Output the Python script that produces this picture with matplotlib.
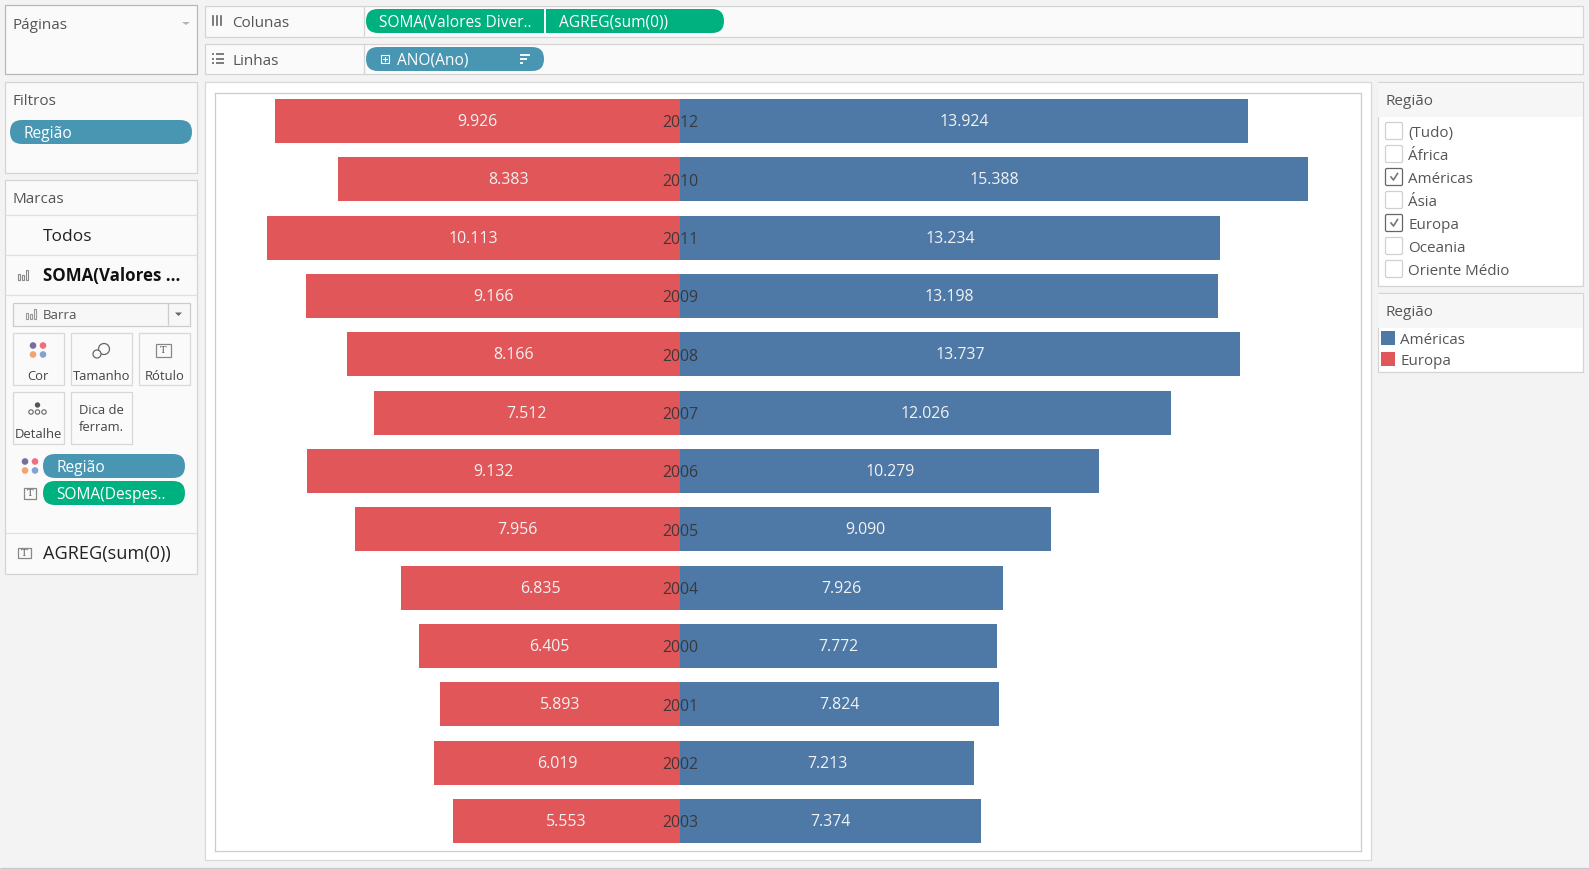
import matplotlib
matplotlib.use('Agg')
import matplotlib.pyplot as plt
from matplotlib.patches import Rectangle, FancyBboxPatch, Circle

# --- data ---
anos = ['2012', '2010', '2011', '2009', '2008', '2007', '2006', '2005', '2004', '2000', '2001', '2002', '2003']
americas = [13924, 15388, 13234, 13198, 13737, 12026, 10279, 9090, 7926, 7772, 7824, 7213, 7374]
europa = [9926, 8383, 10113, 9166, 8166, 7512, 9132, 7956, 6835, 6405, 5893, 6019, 5553]
regioes_filtro = ['(Tudo)', 'África', 'Américas', 'Ásia', 'Europa', 'Oceania', 'Oriente Médio']
regioes_marcadas = ['Américas', 'Europa']

AZUL = '#4e79a7'
VERM = '#e15759'
VERDE = '#00b180'
PILL = '#4996b2'
BORDA = '#d4d4d4'
TXT = '#555555'

plt.rcParams['font.family'] = ['Open Sans', 'DejaVu Sans']

W, H = 1589, 869
fig = plt.figure(figsize=(W / 100, H / 100), dpi=100, facecolor='#f3f3f3')

# pixel canvas for the Tableau window around the chart
ui = fig.add_axes([0, 0, 1, 1])
ui.set_xlim(0, W)
ui.set_ylim(H, 0)
ui.axis('off')


def box(x0, y0, x1, y1, fc='#fafafa', ec=BORDA, lw=0.9, z=1):
    ui.add_patch(Rectangle((x0, y0), x1 - x0, y1 - y0, fc=fc, ec=ec, lw=lw, zorder=z))


def hline(x0, x1, y, c='#e0e0e0'):
    ui.plot([x0, x1], [y, y], color=c, lw=0.9, zorder=2, solid_capstyle='butt')


def vline(x, y0, y1, c='#e0e0e0'):
    ui.plot([x, x], [y0, y1], color=c, lw=0.9, zorder=2, solid_capstyle='butt')


def txt(x, yc, s, size=11, color=TXT, **kw):
    # yc is the middle of the capitals, so accents and descenders do not move the line
    ui.text(x, yc + 0.496 * size, s, fontsize=size, color=color, va='baseline', zorder=6, **kw)


def pill(x0, y0, x1, y1, fc, s=None, tx=None, square=None):
    r = (y1 - y0) / 2
    ui.add_patch(FancyBboxPatch((x0 + r, y0 + r), x1 - x0 - 2 * r, 0,
                                boxstyle='round,pad=%f,rounding_size=%f' % (r, r),
                                fc=fc, ec='none', zorder=3))
    if square == 'right':
        ui.add_patch(Rectangle((x1 - r, y0), r, y1 - y0, fc=fc, ec='none', zorder=3))
    if square == 'left':
        ui.add_patch(Rectangle((x0, y0), r, y1 - y0, fc=fc, ec='none', zorder=3))
    if s:
        txt(tx, (y0 + y1) / 2, s, size=11.2, color='white')


def dots(cx, cy):
    for dx, dy, c in [(-5, -4.5, '#7b6c9c'), (5, -4.5, '#ef6f81'), (-5, 4.5, '#f2a46f'), (5, 4.5, '#82a3cd')]:
        ui.add_patch(Circle((cx + dx, cy + dy), 3.3, fc=c, ec='none', zorder=4))


def t_icon(cx, cy, w=14, h=13):
    box(cx - w / 2, cy - h / 2, cx + w / 2, cy + h / 2, fc='none', ec='#888888', lw=0.9, z=4)
    txt(cx, cy, 'T', size=7, color='#666666', ha='center', family='DejaVu Serif')


def bar_icon(x, y, c='#999999'):
    for dx, h in [(0, 6), (4, 5), (8, 10)]:
        ui.add_patch(Rectangle((x + dx, y - h), 2.4, h, fc='none', ec=c, lw=0.8, zorder=4))


# left cards
box(4.5, 5, 197, 74, ec='#b8b8b8')
txt(12, 23.5, 'Páginas')
ui.fill([182, 190, 186], [22, 22, 25], color='#b5b5b5', lw=0, zorder=4)

box(4.5, 81.5, 197, 172.5)
txt(12, 99.7, 'Filtros')
pill(10, 120, 192, 144, PILL, 'Região', 23.5)

box(4.5, 179.5, 197, 574)
txt(12, 197.7, 'Marcas')
for yy in [215, 255, 295, 533]:
    hline(5, 197, yy)
txt(43, 235, 'Todos', size=12.5, color='#222222')
bar_icon(18, 280, '#888888')
txt(43, 275, 'SOMA(Valores ...', size=12.2, color='#111111', fontweight='bold')

box(12.5, 302.5, 189.5, 325.5, fc='#f7f7f7', ec='#cccccc')
vline(167.5, 303, 325, '#cccccc')
bar_icon(26, 319)
txt(43, 314.5, 'Barra', size=9.5)
ui.fill([175, 182, 178.5], [312.5, 312.5, 316], color='#666666', lw=0, zorder=4)

for x0, x1, y0, y1, lab in [(12.5, 63.5, 333, 385, 'Cor'), (71, 132, 333, 385, 'Tamanho'),
                            (139, 190, 333, 385, 'Rótulo'), (12.5, 63.5, 392, 443.5, 'Detalhe')]:
    box(x0, y0, x1, y1, ec='#d8d8d8')
    txt((x0 + x1) / 2, y1 - 10, lab, size=9.4, color='#444444', ha='center')
box(71, 392, 132, 443.5, ec='#d8d8d8')
txt(101.5, 409.5, 'Dica de', size=9.4, color='#444444', ha='center')
txt(101.5, 426.5, 'ferram.', size=9.4, color='#444444', ha='center')

dots(38, 350)
ui.add_patch(Circle((104, 349), 5.5, fc='none', ec='#666666', lw=0.9, zorder=4))
ui.add_patch(Circle((97, 354), 4, fc='#fafafa', ec='#666666', lw=0.9, zorder=5))
t_icon(163.5, 350, 15, 13)
ui.add_patch(Circle((37.5, 405), 2.7, fc='#555555', ec='none', zorder=4))
for dx in [-6.5, 0, 6.5]:
    ui.add_patch(Circle((37.5 + dx, 412), 2.2, fc='none', ec='#666666', lw=0.8, zorder=4))

dots(30, 466)
pill(43, 454, 185, 478, PILL, 'Região', 56.5)
t_icon(30, 493, 12, 11)
pill(43, 481, 185, 505, VERDE, 'SOMA(Despes..', 56.5)
t_icon(24, 553, 13, 10)
txt(43, 553, 'AGREG(sum(0))', size=13.1, color='#222222')

# shelves
box(204.5, 5.5, 1583, 36.5)
box(204.5, 43.5, 1583, 74)
vline(363.5, 6, 36, BORDA)
vline(363.5, 44, 74, BORDA)
for xx in [213, 217, 221]:
    ui.plot([xx, xx], [16, 25], color='#666666', lw=1.2, zorder=4)
for yy in [54, 58.5, 63]:
    ui.plot([212, 214], [yy, yy], color='#666666', lw=1.2, zorder=4, solid_capstyle='butt')
    ui.plot([216, 224], [yy, yy], color='#666666', lw=1.2, zorder=4, solid_capstyle='butt')
txt(232, 21.5, 'Colunas')
txt(232, 59.7, 'Linhas')

pill(366, 9, 544, 33, VERDE, 'SOMA(Valores Diver..', 379, square='right')
pill(546, 9, 724, 33, VERDE, 'AGREG(sum(0))', 559, square='left')
pill(366, 47, 544, 71, PILL, 'ANO(Ano)', 397)
box(380.5, 55, 388.5, 63, fc='none', ec='white', lw=0.8, z=4)
ui.plot([382.5, 386.5], [59, 59], color='white', lw=0.8, zorder=4)
ui.plot([384.5, 384.5], [57, 61], color='white', lw=0.8, zorder=4)
for yy, xe in [(54.5, 530), (58.5, 527), (62.5, 523)]:
    ui.plot([520, xe], [yy, yy], color='white', lw=1.3, zorder=4, solid_capstyle='butt')

# chart frame
box(204.5, 81.5, 1371, 860, fc='white', ec='#d8d8d8')

# right cards
box(1377.5, 82, 1583, 285.5, fc='white')
box(1378, 82.5, 1582.5, 116.5, fc='#f6f6f6', ec='none', lw=0)
txt(1385.5, 100, 'Região')
for i, nome in enumerate(regioes_filtro):
    yc = 131 + 23 * i
    on = nome in regioes_marcadas
    ui.add_patch(FancyBboxPatch((1385.5, yc - 8.5), 17, 17, boxstyle='round,pad=0,rounding_size=1.5',
                                fc='white', ec='#666666' if on else '#d0d0d0', lw=0.9, zorder=3))
    if on:
        ui.plot([1391, 1393.5, 1397.5], [yc, yc + 3, yc - 3.5], color='#777777', lw=1.2, zorder=4)
    txt(1408, yc + 0.7, nome, size=10.9)

box(1377.5, 293, 1583, 371.5, fc='white')
box(1378, 293.5, 1582.5, 327.5, fc='#f6f6f6', ec='none', lw=0)
txt(1385.5, 310.7, 'Região')
ui.add_patch(Rectangle((1381, 331), 14, 14, fc=AZUL, ec='none', zorder=3))
ui.add_patch(Rectangle((1381, 352), 14, 14, fc=VERM, ec='none', zorder=3))
txt(1400.5, 338.7, 'Américas', size=10.9)
txt(1400.5, 360, 'Europa', size=10.9)

hline(0, W, 867.5, '#c8c8c8')

# --- chart ---
PX_UNIT = 0.0408  # pixels per value unit
PX_ROW = 58.33
L, R, T, B = 215, 1360.5, 92.5, 850.5
CENTRO = 680
PRIMEIRA = 121

ax = fig.add_axes([L / W, 1 - B / H, (R - L) / W, (B - T) / H], zorder=3)
ax.set_xlim((L - CENTRO) / PX_UNIT, (R - CENTRO) / PX_UNIT)
ax.set_ylim((B - PRIMEIRA) / PX_ROW, (T - PRIMEIRA) / PX_ROW)
ax.set_facecolor('white')
ax.set_xticks([])
ax.set_yticks([])
for s in ax.spines.values():
    s.set_color('#cccccc')
    s.set_linewidth(0.9)

pos = list(range(len(anos)))
ax.barh(pos, americas, height=0.754, color=AZUL)
ax.barh(pos, [-v for v in europa], height=0.754, color=VERM)

for i, ano in enumerate(anos):
    ax.text(americas[i] / 2, i + 0.02, f'{americas[i]:,}'.replace(',', '.'), color='#f2f2f2', fontsize=11.4,
            ha='center', va='center')
    ax.text(-europa[i] / 2, i + 0.02, f'{europa[i]:,}'.replace(',', '.'), color='#f2f2f2', fontsize=11.4,
            ha='center', va='center')
    ax.text(0, i + 0.04, ano, color='#333333', alpha=0.9, fontsize=11.4, ha='center', va='center')

fig.savefig('out.png', dpi=100, facecolor=fig.get_facecolor())
